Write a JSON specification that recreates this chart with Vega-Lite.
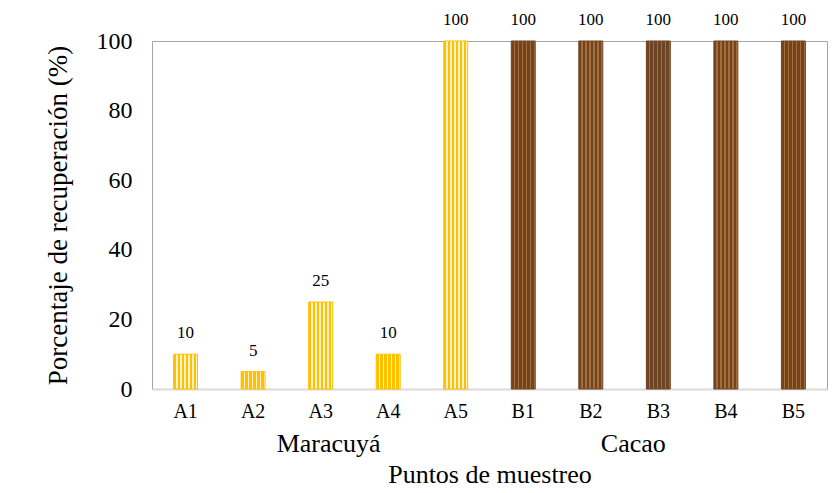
{
  "$schema": "https://vega.github.io/schema/vega-lite/v6.json",
  "width": 675,
  "height": 348,
  "autosize": {"type": "none"},
  "padding": {"left": 152, "top": 41, "right": 13, "bottom": 104},
  "background": "white",
  "config": {
    "font": "Liberation Serif",
    "axis": {"labelFont": "Liberation Serif", "titleFont": "Liberation Serif"},
    "text": {"font": "Liberation Serif"},
    "view": {"stroke": "#A6A6A6", "strokeWidth": 1}
  },
  "data": {
    "values": [
      {"punto": "A1", "grupo": "Maracuyá", "valor": 10},
      {"punto": "A2", "grupo": "Maracuyá", "valor": 5},
      {"punto": "A3", "grupo": "Maracuyá", "valor": 25},
      {"punto": "A4", "grupo": "Maracuyá", "valor": 10},
      {"punto": "A5", "grupo": "Maracuyá", "valor": 100},
      {"punto": "B1", "grupo": "Cacao", "valor": 100},
      {"punto": "B2", "grupo": "Cacao", "valor": 100},
      {"punto": "B3", "grupo": "Cacao", "valor": 100},
      {"punto": "B4", "grupo": "Cacao", "valor": 100},
      {"punto": "B5", "grupo": "Cacao", "valor": 100}
    ]
  },
  "encoding": {
    "x": {"field": "punto", "type": "nominal", "sort": null,
          "scale": {"paddingInner": 0.645, "paddingOuter": 0.32}, "axis": null},
    "y": {"field": "valor", "type": "quantitative",
          "scale": {"domain": [0, 100], "nice": false},
          "axis": {"values": [0, 20, 40, 60, 80, 100], "grid": false, "domain": false, "ticks": false,
                   "labelFontSize": 24, "labelColor": "#000000", "labelPadding": 20,
                   "title": "Porcentaje de recuperación (%)", "titleFontSize": 27, "titleFontWeight": "normal",
                   "titleColor": "#000000", "titlePadding": 24}}
  },
  "layer": [
    {
      "transform": [{"filter": "datum.grupo == 'Maracuyá'"}],
      "mark": {"type": "bar", "stroke": "#FFC000", "strokeWidth": 1,
               "fill": {"gradient": "linear", "x1": 0, "x2": 1, "y1": 0, "y2": 0,
                        "stops": [
                          {"offset": 0, "color": "#FFC000"}, {"offset": 0.1, "color": "#FFC000"},
                          {"offset": 0.1, "color": "#FFF3CC"}, {"offset": 0.1667, "color": "#FFF3CC"},
                          {"offset": 0.1667, "color": "#FFC000"}, {"offset": 0.2667, "color": "#FFC000"},
                          {"offset": 0.2667, "color": "#FFF3CC"}, {"offset": 0.3333, "color": "#FFF3CC"},
                          {"offset": 0.3333, "color": "#FFC000"}, {"offset": 0.4333, "color": "#FFC000"},
                          {"offset": 0.4333, "color": "#FFF3CC"}, {"offset": 0.5, "color": "#FFF3CC"},
                          {"offset": 0.5, "color": "#FFC000"}, {"offset": 0.6, "color": "#FFC000"},
                          {"offset": 0.6, "color": "#FFF3CC"}, {"offset": 0.6667, "color": "#FFF3CC"},
                          {"offset": 0.6667, "color": "#FFC000"}, {"offset": 0.7667, "color": "#FFC000"},
                          {"offset": 0.7667, "color": "#FFF3CC"}, {"offset": 0.8333, "color": "#FFF3CC"},
                          {"offset": 0.8333, "color": "#FFC000"}, {"offset": 0.9333, "color": "#FFC000"},
                          {"offset": 0.9333, "color": "#FFF3CC"}, {"offset": 1, "color": "#FFF3CC"}
                        ]}},
      "encoding": {
        "x": {"field": "punto", "type": "nominal", "sort": null,
              "axis": {"orient": "bottom", "title": null, "labelAngle": 0, "labelFontSize": 20, "labelColor": "#000000",
                       "labelPadding": 12, "ticks": false, "domainColor": "#D9D9D9", "domainWidth": 2}}
      }
    },
    {
      "transform": [{"filter": "datum.grupo == 'Cacao'"}],
      "mark": {"type": "bar", "stroke": "#6E4524", "strokeWidth": 1,
               "fill": {"gradient": "linear", "x1": 0, "x2": 1, "y1": 0, "y2": 0,
                        "stops": [
                          {"offset": 0, "color": "#6E4524"}, {"offset": 0.1, "color": "#6E4524"},
                          {"offset": 0.1, "color": "#A86D34"}, {"offset": 0.1667, "color": "#A86D34"},
                          {"offset": 0.1667, "color": "#6E4524"}, {"offset": 0.2667, "color": "#6E4524"},
                          {"offset": 0.2667, "color": "#A86D34"}, {"offset": 0.3333, "color": "#A86D34"},
                          {"offset": 0.3333, "color": "#6E4524"}, {"offset": 0.4333, "color": "#6E4524"},
                          {"offset": 0.4333, "color": "#A86D34"}, {"offset": 0.5, "color": "#A86D34"},
                          {"offset": 0.5, "color": "#6E4524"}, {"offset": 0.6, "color": "#6E4524"},
                          {"offset": 0.6, "color": "#A86D34"}, {"offset": 0.6667, "color": "#A86D34"},
                          {"offset": 0.6667, "color": "#6E4524"}, {"offset": 0.7667, "color": "#6E4524"},
                          {"offset": 0.7667, "color": "#A86D34"}, {"offset": 0.8333, "color": "#A86D34"},
                          {"offset": 0.8333, "color": "#6E4524"}, {"offset": 0.9333, "color": "#6E4524"},
                          {"offset": 0.9333, "color": "#A86D34"}, {"offset": 1, "color": "#A86D34"}
                        ]}},
      "encoding": {
        "x": {"field": "punto", "type": "nominal", "sort": null, "axis": null}
      }
    },
    {
      "mark": {"type": "text", "baseline": "alphabetic", "dy": -16, "fontSize": 17, "color": "#000000", "font": "Liberation Serif"},
      "encoding": {
        "x": {"field": "punto", "type": "nominal", "sort": null,
              "axis": {"orient": "bottom", "domain": false, "ticks": false, "labelAngle": 0,
                       "labelExpr": "datum.value == 'A3' ? 'Maracuyá' : datum.value == 'B3' ? 'Cacao' : ''",
                       "labelOffset": {"condition": {"test": "datum.value == 'A3'", "value": 8}, "value": -25},
                       "labelFontSize": 26, "labelColor": "#000000", "labelPadding": 41, "labelOverlap": false,
                       "title": "Puntos de muestreo", "titleFontSize": 26, "titleFontWeight": "normal",
                       "titleColor": "#000000", "titlePadding": 5}},
        "text": {"field": "valor", "type": "quantitative"}
      }
    }
  ],
  "resolve": {"axis": {"x": "independent"}}
}
